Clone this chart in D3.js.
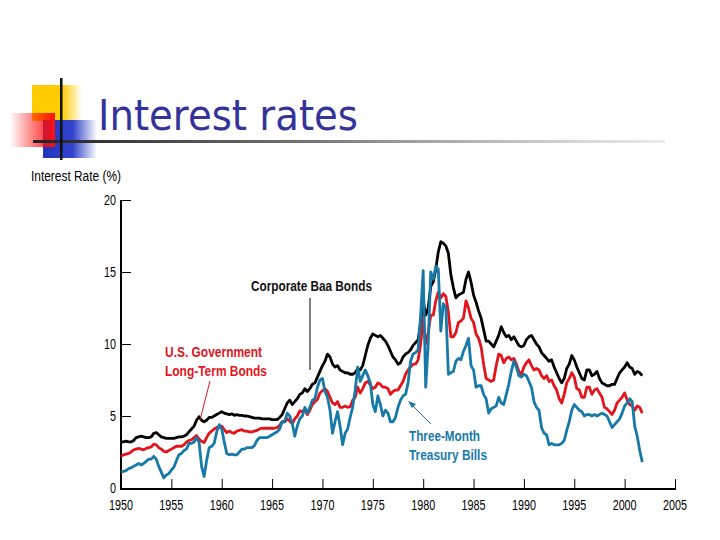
<!DOCTYPE html>
<html><head><meta charset="utf-8">
<script src="https://cdn.jsdelivr.net/npm/d3@7/dist/d3.min.js"></script>
<style>html,body{margin:0;padding:0;background:#fff;}svg{display:block;}</style>
</head><body><svg id="c" width="720" height="540"></svg>
<script>
// Quarterly observations, 1950 Q1 through 2001 Q4
const startYear = 1950;
const baa = [
3.2,3.2,3.25,3.2, 3.2,3.3,3.5,3.55, 3.6,3.55,3.5,3.5, 3.55,3.8,3.85,3.7, 3.55,3.5,3.45,3.45,
3.45,3.45,3.5,3.55, 3.55,3.6,3.7,3.9, 4.1,4.3,4.7,4.95, 4.7,4.6,4.7,4.9, 4.9,5.0,5.1,5.2,
5.3,5.2,5.15,5.1, 5.15,5.05,5.1,5.05, 5.05,5.0,5.0,4.95, 4.9,4.85,4.85,4.85, 4.8,4.8,4.8,4.8,
4.75,4.75,4.75,4.9, 5.1,5.5,5.9,6.1, 5.8,6.0,6.2,6.5, 6.6,6.9,6.7,6.9, 7.2,7.3,7.7,8.1,
8.5,8.8,9.3,9.1, 8.6,8.4,8.5,8.2, 8.1,8.0,8.0,7.9, 7.9,8.0,8.3,8.2, 8.5,9.2,9.9,10.4,
10.7,10.6,10.5,10.6, 10.4,10.2,9.9,9.5, 9.1,8.9,8.6,8.7, 9.1,9.3,9.4,9.6, 9.9,10.1,10.3,11.5,
13.0,12.0,12.5,14.0, 14.3,15.2,16.4,17.1, 17.0,16.8,16.3,14.8, 13.9,13.2,13.4,13.5, 13.6,14.5,15.0,14.3,
13.4,12.9,12.3,11.8, 11.0,10.2,10.2,10.0, 9.8,10.2,10.6,11.2, 10.8,10.5,10.6,10.3, 10.5,10.2,9.9,9.8,
9.9,10.3,10.5,10.6, 10.3,10.0,9.8,9.4, 9.2,9.0,8.8,8.9, 8.4,8.0,7.6,7.3, 7.6,8.3,8.6,9.2,
8.9,8.4,8.0,7.6, 7.5,8.2,8.2,7.8, 7.9,8.1,7.6,7.3, 7.2,7.1,7.1,7.2, 7.2,7.6,8.0,8.2,
8.4,8.7,8.4,8.3, 7.9,8.1,8.0,7.8
];
const govt = [
2.2,2.3,2.35,2.4, 2.5,2.65,2.7,2.75, 2.7,2.65,2.75,2.8, 2.85,3.05,3.0,2.8, 2.7,2.55,2.5,2.6,
2.7,2.8,2.9,2.9, 2.9,3.0,3.2,3.3, 3.35,3.5,3.65,3.4, 3.25,3.15,3.5,3.8, 3.95,4.1,4.2,4.2,
4.3,4.05,3.85,3.95, 3.85,3.8,3.95,4.0, 4.05,3.95,3.95,3.9, 3.9,3.95,4.0,4.1, 4.15,4.15,4.15,4.15,
4.15,4.15,4.2,4.35, 4.6,4.6,4.8,4.65, 4.45,4.8,5.0,5.35, 5.3,5.45,5.1,5.4, 5.8,6.0,6.15,6.6,
6.75,6.9,6.7,6.3, 5.9,5.8,6.0,5.6, 5.6,5.7,5.6,5.65, 6.1,6.3,7.0,6.6, 6.9,7.3,7.4,7.15,
6.9,7.0,7.3,7.2, 7.0,7.0,6.9,6.5, 6.7,6.8,6.8,7.1, 7.4,7.9,8.2,8.4, 8.6,8.6,8.9,10.0,
11.8,10.0,10.8,12.0, 12.0,13.0,13.6,13.2, 13.5,13.3,12.2,10.5, 10.5,10.8,11.5,11.6, 11.8,13.0,12.5,11.8,
11.5,10.7,10.4,9.8, 8.6,7.6,7.5,7.4, 7.5,8.5,9.3,9.2, 8.7,9.0,9.1,8.9, 9.0,8.6,8.1,7.9,
8.4,8.7,8.9,8.5, 8.2,8.3,8.2,7.8, 7.6,7.8,7.4,7.5, 7.1,6.8,6.2,5.9, 6.5,7.3,7.6,8.0,
7.7,6.9,6.8,6.3, 6.3,7.0,7.0,6.5, 6.8,6.9,6.6,6.3, 5.6,5.5,5.3,5.1, 5.4,5.9,6.1,6.3,
6.6,6.1,5.8,5.7, 5.4,5.7,5.6,5.2
];
const tbill = [
1.1,1.15,1.2,1.35, 1.4,1.5,1.6,1.7, 1.6,1.7,1.85,2.0, 2.0,2.2,2.0,1.5, 1.1,0.7,0.9,1.0,
1.25,1.45,1.9,2.3, 2.4,2.6,2.7,3.1, 3.1,3.2,3.5,3.2, 1.5,0.8,1.9,2.8, 2.9,3.1,3.9,4.4,
4.1,3.2,2.4,2.3, 2.35,2.3,2.3,2.5, 2.7,2.7,2.8,2.8, 2.8,2.95,3.3,3.5, 3.5,3.5,3.5,3.6,
3.7,3.8,3.9,4.1, 4.6,4.6,5.2,5.0, 4.5,3.6,4.3,4.8, 5.0,5.6,5.2,5.6, 6.1,6.2,7.0,7.5,
7.6,6.7,6.3,5.4, 3.8,4.6,5.3,4.3, 3.0,3.8,4.1,4.9, 5.6,6.8,8.4,7.4, 7.8,8.2,7.8,7.3,
5.8,5.3,6.4,5.8, 5.0,5.4,5.2,4.6, 4.6,4.9,5.6,6.1, 6.4,6.5,7.3,8.8, 9.3,9.4,9.6,12.0,
15.1,7.0,10.0,15.0, 14.5,15.4,15.2,10.9, 12.8,12.5,7.9,8.0, 8.1,8.8,9.0,8.9, 9.5,9.9,10.4,8.5,
8.2,7.0,7.1,7.1, 6.5,6.2,5.2,5.5, 5.6,5.7,6.3,5.9, 5.8,6.5,7.2,8.1, 8.8,8.4,7.8,7.7,
7.9,7.8,7.4,7.0, 6.0,5.6,5.4,4.2, 3.8,3.7,3.0,3.1, 3.0,3.0,3.0,3.1, 3.3,4.0,4.6,5.4,
5.8,5.6,5.4,5.3, 5.0,5.1,5.1,5.0, 5.1,5.0,5.1,5.2, 5.1,5.0,4.6,4.2, 4.4,4.6,4.8,5.2,
5.7,5.9,6.2,6.0, 4.3,3.6,2.6,1.8
];
const yTicks = [0, 5, 10, 15, 20];
const xTicks = [1950,1955,1960,1965,1970,1975,1980,1985,1990,1995,2000,2005];
const labels = {
  baa: ["Corporate Baa Bonds"],
  govt: ["U.S. Government", "Long-Term Bonds"],
  tbill: ["Three-Month", "Treasury Bills"]
};
const title = "Interest rates";
const yTitle = "Interest Rate (%)";

const svg = d3.select("#c");
const sans = "'Liberation Sans',Arial,Helvetica,sans-serif";
const defs = svg.append("defs");
function lg(id, stops) {
  const g = defs.append("linearGradient").attr("id", id).attr("x1", "0%").attr("y1", "0%").attr("x2", "100%").attr("y2", "0%");
  stops.forEach(s => g.append("stop").attr("offset", s[0]).attr("stop-color", s[1]).attr("stop-opacity", s[2] == null ? 1 : s[2]));
}
lg("gY", [[0, "#ffcc00"], [0.6, "#ffcc00"], [1, "#ffcc00", 0]]);
lg("gR", [[0, "#ff0000", 0], [1, "#ff1010"]]);
lg("gB", [[0, "#2233bb"], [0.55, "#3344cc"], [1, "#3344cc", 0]]);
lg("gL", [[0, "#222"], [0.45, "#777"], [1, "#ddd", 0.6]]);

// Decorative title block
svg.append("rect").attr("x", 32).attr("y", 85).attr("width", 50).attr("height", 36).attr("fill", "url(#gY)");
svg.append("rect").attr("x", 43).attr("y", 120).attr("width", 54).attr("height", 38).attr("fill", "url(#gB)");
svg.append("rect").attr("x", 10).attr("y", 113).attr("width", 45).attr("height", 34).attr("fill", "url(#gR)");
svg.append("rect").attr("x", 33).attr("y", 140).attr("width", 632).attr("height", 3).attr("fill", "url(#gL)");
svg.append("rect").attr("x", 60).attr("y", 78).attr("width", 2.5).attr("height", 82).attr("fill", "#111");

svg.append("text").attr("x", 98).attr("y", 130).attr("fill", "#333399")
  .attr("font-family", "Tahoma,'DejaVu Sans',sans-serif").attr("font-size", 43)
  .attr("textLength", 260).attr("lengthAdjust", "spacingAndGlyphs").text(title);

const x = d3.scaleLinear().domain([1950, 2005]).range([121, 675]);
const y = d3.scaleLinear().domain([0, 20]).range([488, 200]);

function ntext(sel, str, w) {
  return sel.attr("font-family", sans).attr("textLength", w).attr("lengthAdjust", "spacingAndGlyphs").text(str);
}
ntext(svg.append("text").attr("x", 31).attr("y", 181).attr("font-size", 14).attr("fill", "#000"), yTitle, 90);

// y axis
const yAxis = svg.append("g").attr("transform", "translate(121,0)")
  .call(d3.axisRight(y).tickValues(yTicks.filter(d => d > 0)).tickSize(10).tickFormat(""));
yAxis.select(".domain").remove();
yAxis.selectAll(".tick line").attr("stroke", "#000").attr("stroke-width", 1);
svg.append("line").attr("x1", 121).attr("x2", 121).attr("y1", 200).attr("y2", 490).attr("stroke", "#000").attr("stroke-width", 2);
svg.selectAll(".ylab").data(yTicks).join("text").attr("class", "ylab")
  .attr("x", 116).attr("y", d => y(d) + 5).attr("text-anchor", "end").attr("font-size", 14)
  .each(function(d) { ntext(d3.select(this), String(d), String(d).length * 6); });

// x axis
const xAxis = svg.append("g").attr("transform", "translate(0,489)")
  .call(d3.axisTop(x).tickValues(xTicks).tickSize(10).tickFormat(""));
xAxis.select(".domain").remove();
xAxis.selectAll(".tick line").attr("stroke", "#000").attr("stroke-width", 1);
svg.append("line").attr("x1", 120).attr("x2", 676).attr("y1", 489).attr("y2", 489).attr("stroke", "#000").attr("stroke-width", 2);
svg.selectAll(".xlab").data(xTicks).join("text").attr("class", "xlab")
  .attr("x", d => x(d)).attr("y", 510).attr("text-anchor", "middle").attr("font-size", 14)
  .each(function(d) { ntext(d3.select(this), String(d), 24); });

// series
const t = i => startYear + i * 0.25;
const line = d3.line().x((d, i) => x(t(i))).y(d => y(d));
const series = [
  {vals: baa, color: "#000000"},
  {vals: govt, color: "#e3141c"},
  {vals: tbill, color: "#1779a8"}
];
svg.append("g").selectAll("path").data(series).join("path")
  .attr("d", s => line(s.vals)).attr("fill", "none").attr("stroke", s => s.color)
  .attr("stroke-width", 2.8).attr("stroke-linejoin", "round");

// annotations
function ann(lines, widths, xx, yy, color, dy) {
  lines.forEach((str, i) => {
    ntext(svg.append("text").attr("x", xx).attr("y", yy + i * dy).attr("font-size", 15)
      .attr("font-weight", "bold").attr("fill", color), str, widths[i]);
  });
}
ann(labels.baa, [121], 251, 291, "#111", 0);
svg.append("line").attr("x1", 310).attr("x2", 310).attr("y1", 298).attr("y2", 370).attr("stroke", "#000").attr("stroke-width", 1);
ann(labels.govt, [97, 102], 165, 357, "#e3141c", 19);
svg.append("line").attr("x1", 210).attr("y1", 381).attr("x2", 200).attr("y2", 420).attr("stroke", "#e3141c").attr("stroke-width", 1);
ann(labels.tbill, [71, 78], 409, 441, "#1779a8", 19);
svg.append("line").attr("x1", 431).attr("y1", 424).attr("x2", 410).attr("y2", 403).attr("stroke", "#1779a8").attr("stroke-width", 1);
svg.append("path").attr("d", "M408,401 L416,404 L412,408 Z").attr("fill", "#1779a8");
</script></body></html>
